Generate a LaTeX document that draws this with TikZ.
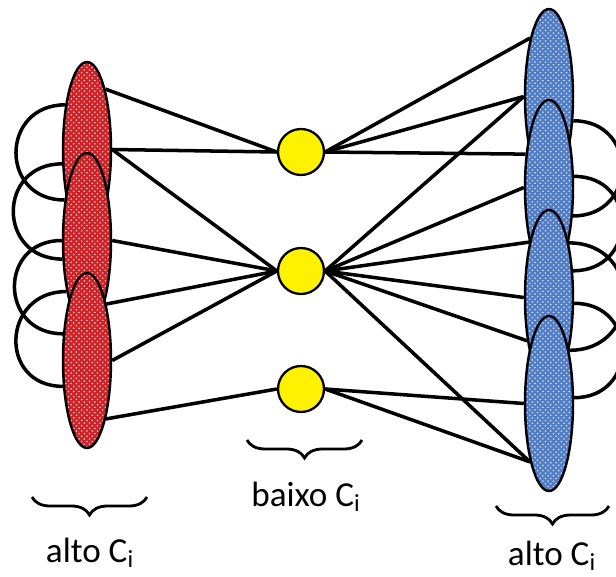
\documentclass[tikz,border=0pt]{standalone}
\usepackage{fontspec}
\setmainfont{Carlito}
\usetikzlibrary{shapes.geometric,patterns,decorations.pathreplacing}
\definecolor{cellred}{RGB}{205,35,40}
\definecolor{dotred}{RGB}{250,195,195}
\definecolor{cellblue}{RGB}{80,125,198}
\definecolor{dotblue}{RGB}{215,228,248}
\tikzset{
  cell/.style={ellipse,draw,line width=1.4pt,inner sep=0pt,minimum width=0.96cm,minimum height=3.5cm},
  redcell/.style={cell,preaction={fill=cellred},pattern=crosshatch dots,pattern color=dotred},
  bluecell/.style={cell,preaction={fill=cellblue},pattern=crosshatch dots,pattern color=dotblue},
  hub/.style={circle,draw,line width=1.3pt,fill=yellow,inner sep=0pt,minimum size=0.92cm},
  wire/.style={line width=2pt},
  selflink/.style={line width=2pt,looseness=1.75},
  grpbrace/.style={decorate,decoration={brace,mirror,amplitude=3.6mm},line width=1.6pt},
  lbl/.style={font=\fontsize{20}{24}\selectfont}
}

\begin{document}
\begin{tikzpicture}[x=0.02cm,y=0.02cm]
	\useasboundingbox (0,0) rectangle (616,576);
	% left column of cells
	\node[redcell] (l1) at (87,426.5) {};
	\node[redcell] (l2) at (87,335.5) {};
	\node[redcell] (l3) at (87,215.5) {};
	% hubs in the middle
	\node[hub] (m1) at (301,424) {};
	\node[hub] (m2) at (301,305) {};
	\node[hub] (m3) at (301,187) {};
	% right column of cells
	\node[bluecell] (r1) at (549,479.5) {};
	\node[bluecell] (r2) at (549,388.5) {};
	\node[bluecell] (r3) at (549,278.5) {};
	\node[bluecell] (r4) at (549,172.5) {};

	% self loops, left side
	\draw[selflink] (l1.116) to[out=180,in=180] (l2.119);
	\draw[selflink] (l1.210) to[out=180,in=180] (l2.217);
	\draw[selflink] (l2.180) to[out=180,in=180] (l3.132);
	\draw[selflink] (l2.248) to[out=180,in=180] (l3.227);
	% self loops, right side
	\draw[selflink] (r1.-45) to[out=0,in=0] (r2.-50);
	\draw[selflink] (r2.24)  to[out=0,in=0] (r3.48);
	\draw[selflink] (r3.70)  to[out=0,in=0] (r3.-69);
	\draw[selflink] (r3.-13) to[out=0,in=0] (r4.13);

	% left cells -> hubs
	\draw[wire] (l1.73)   -- (m1.west);
	\draw[wire] (l1.east) -- (m1.west);
	\draw[wire] (l1.east) -- (m2.west);
	\draw[wire] (l2.east) -- (m2.west);
	\draw[wire] (l3.71)   -- (m2.west);
	\draw[wire] (l3.east) -- (m2.west);
	\draw[wire] (l3.-72)  -- (m3.west);
	% hubs -> right cells
	\draw[wire] (m1.east) -- (r1.108);
	\draw[wire] (m1.east) -- (r1.west);
	\draw[wire] (m1.east) -- (r2.125);
	\draw[wire] (m2.east) -- (r1.west);
	\draw[wire] (m2.east) -- (r2.west);
	\draw[wire] (m2.east) -- (r2.250);
	\draw[wire] (m2.east) -- (r3.west);
	\draw[wire] (m2.east) -- (r3.243);
	\draw[wire] (m2.east) -- (r4.252);
	\draw[wire] (m3.east) -- (r4.west);
	\draw[wire] (m3.east) -- (r4.252);

	% braces and labels
	\draw[grpbrace] (32,79) -- (147,79);
	\draw[grpbrace] (247,136) -- (362,136);
	\draw[grpbrace] (496,70) -- (609,70);
	\node[lbl] (hileft)  at (90,23)  {alto C\textsubscript{i}};
	\node[lbl] (lowmid)  at (306,79) {baixo C\textsubscript{i}};
	\node[lbl] (hiright) at (552,20) {alto C\textsubscript{i}};
\end{tikzpicture}
\end{document}
